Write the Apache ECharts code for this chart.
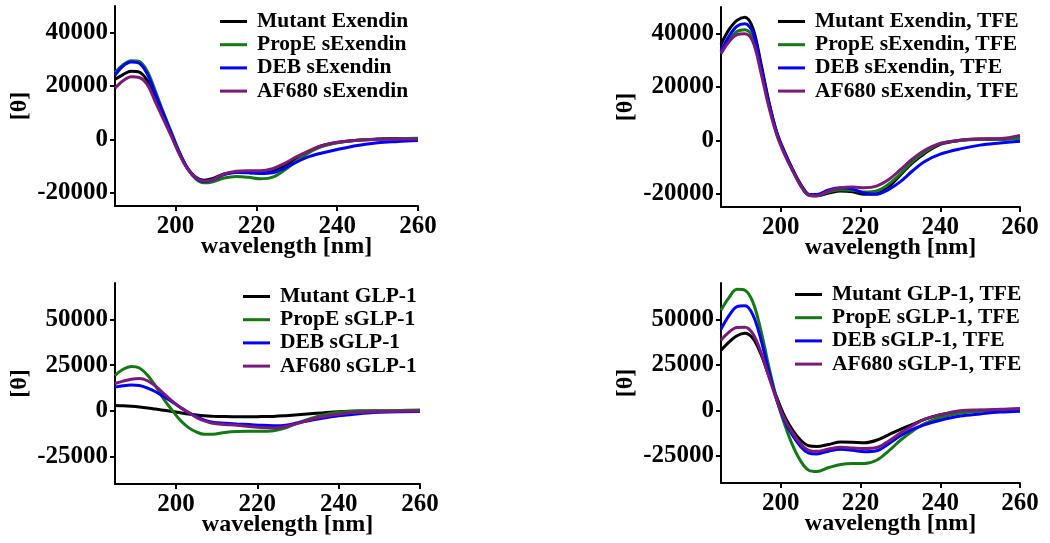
<!DOCTYPE html>
<html>
<head>
<meta charset="utf-8">
<script src="https://cdn.jsdelivr.net/npm/echarts@6/dist/echarts.min.js"></script>
<style>
html,body{margin:0;padding:0;background:#fff;}
#chart{width:1050px;height:543px;}
</style>
</head>
<body>
<div id="chart"></div>
<script>
// Wavelength grid (nm)
const wavelengths = [185,187,189,191,193,195,197,199,201,203,205,207,209,212,215,218,221,224,227,230,233,236,240,245,250,255,260];
const xTicks = [200,220,240,260];
const yTicksTop = [-20000,0,20000,40000];
const yTicksBottom = [-25000,0,25000,50000];

// Panel 1: Exendin
const exMutant = [22500,24300,25500,25200,22000,15500,8500,1500,-5500,-11000,-14200,-15300,-14800,-13000,-12300,-12400,-12700,-12000,-10000,-7000,-4500,-2500,-1200,-300,100,300,200];
const exPropE  = [25000,28000,29500,29200,25500,18000,10000,2500,-5000,-11000,-14800,-16300,-16000,-14500,-13900,-14200,-14800,-14200,-11500,-8000,-5000,-2800,-1300,-300,0,200,400];
const exDEB    = [24000,27500,29000,28500,24500,17000,9500,2000,-5200,-11000,-14500,-15800,-15300,-13200,-12400,-12500,-12800,-12500,-10800,-8500,-6500,-5200,-3800,-2300,-1300,-800,-400];
const exAF680  = [19200,22000,23500,23200,20500,14000,7500,1000,-5800,-11200,-14300,-15600,-15200,-13000,-12000,-11800,-11800,-11000,-9000,-6500,-4300,-2500,-1100,-300,0,100,100];

// Panel 2: Exendin, TFE
const exTMutant = [36000,41500,45000,46200,42000,29000,14500,3000,-4500,-11000,-16500,-20300,-20800,-19800,-19000,-19300,-20200,-20000,-17500,-13000,-8500,-5000,-1500,0,500,500,1000];
const exTPropE  = [33000,37500,40800,41500,38500,27000,13500,2500,-5000,-11300,-17000,-20600,-20800,-19300,-18500,-18700,-19400,-19000,-16500,-12500,-8000,-4500,-1200,0,300,300,800];
const exTDEB    = [33500,39000,42800,43700,40500,28000,14000,2700,-4800,-11200,-16800,-20300,-20300,-18600,-17800,-18300,-19800,-20200,-18500,-15500,-11500,-8000,-5200,-3200,-1800,-1000,-300];
const exTAF680  = [32500,37000,39600,40000,37000,25500,12500,2000,-5500,-11500,-17000,-20500,-20800,-19000,-17800,-17500,-17800,-17200,-14800,-11000,-7000,-3800,-1200,0,500,600,1800];

// Panel 3: GLP-1
const glMutant = [3000,2800,2500,2100,1600,1000,400,-300,-1000,-1700,-2300,-2700,-2900,-3100,-3200,-3200,-3100,-3000,-2600,-2100,-1600,-1100,-500,-100,0,0,0];
const glPropE  = [19500,22800,24300,23500,19500,13500,6500,500,-5000,-9000,-11500,-12800,-12800,-11800,-11300,-11200,-11200,-10800,-9200,-6500,-4200,-2300,-700,0,100,200,500];
const glDEB    = [13000,13800,14200,13900,12500,10500,7800,5000,2000,-700,-3000,-5000,-6200,-6800,-7200,-7500,-7900,-8100,-7800,-6500,-5200,-4000,-2700,-1500,-800,-400,-300];
const glAF680  = [15000,16300,17300,17700,16500,13500,9500,5500,2000,-800,-3500,-5500,-6800,-7400,-7800,-8500,-9100,-9300,-8500,-6800,-4800,-3200,-1800,-800,-300,-100,0];

// Panel 4: GLP-1, TFE
const glTMutant = [33000,37500,41000,42300,39500,31000,19000,7000,-3500,-11000,-16500,-19500,-19900,-18800,-17500,-17600,-17900,-16500,-13500,-10500,-7800,-5000,-2500,-700,0,300,600];
const glTPropE  = [55000,62000,66500,66000,59500,44000,24000,6000,-8000,-19500,-28000,-33000,-33700,-31500,-29800,-29300,-29300,-27500,-22500,-16500,-11500,-7500,-4000,-1500,-500,0,500];
const glTDEB    = [44500,52000,57000,57500,52500,39000,21500,5500,-6000,-14000,-20000,-23500,-24000,-22500,-21500,-22000,-22800,-22300,-18500,-14000,-10500,-8000,-5500,-3200,-2000,-1000,-500];
const glTAF680  = [38500,43000,45500,45600,42000,32000,18500,5500,-5000,-12500,-18500,-22000,-22600,-21300,-20400,-20700,-21000,-20500,-17000,-12500,-8500,-5000,-2500,-300,200,500,1000];

const panels = [
  {names:['Mutant Exendin','PropE sExendin','DEB sExendin','AF680 sExendin'], data:[exMutant,exPropE,exDEB,exAF680]},
  {names:['Mutant Exendin, TFE','PropE sExendin, TFE','DEB sExendin, TFE','AF680 sExendin, TFE'], data:[exTMutant,exTPropE,exTDEB,exTAF680]},
  {names:['Mutant GLP-1','PropE sGLP-1','DEB sGLP-1','AF680 sGLP-1'], data:[glMutant,glPropE,glDEB,glAF680]},
  {names:['Mutant GLP-1, TFE','PropE sGLP-1, TFE','DEB sGLP-1, TFE','AF680 sGLP-1, TFE'], data:[glTMutant,glTPropE,glTDEB,glTAF680]}
];
const colors = ['#000000','#137a13','#0000ff','#7a1a7a'];

const FONT = '"Liberation Serif", "Times New Roman", serif';
const grids = [
  {left:115, top:6, width:303, height:200},
  {left:721, top:7, width:299, height:200},
  {left:115, top:283, width:305, height:201},
  {left:721, top:283, width:299, height:200}
];
const legendPos = [
  {left:220, top:10},
  {left:778, top:10},
  {left:243, top:285},
  {left:795, top:283}
];
const yRanges = [
  {min:-25000,max:50000,ticks:yTicksTop},
  {min:-25000,max:50000,ticks:yTicksTop},
  {min:-40000,max:70000,ticks:yTicksBottom},
  {min:-40000,max:70000,ticks:yTicksBottom}
];

const axisLineStyle = {color:'#000', width:2};
const option = {
  animation:false,
  backgroundColor:'#ffffff',
  grid: grids.map(g => Object.assign({containLabel:false}, g)),
  xAxis: grids.map((g,i) => ({
    type:'value', gridIndex:i, min:185, max:260,
    name:'wavelength [nm]', nameLocation:'middle', nameGap:29, nameMoveOverlap:false,
    nameTextStyle:{fontFamily:FONT, fontWeight:'bold', fontSize:24, color:'#000', padding:[0,0,0,40]},
    axisLine:{show:true, onZero:false, lineStyle:axisLineStyle},
    axisTick:{show:true, length:5, lineStyle:axisLineStyle, customValues:xTicks},
    axisLabel:{fontFamily:FONT, fontWeight:'bold', fontSize:25, color:'#000', margin:8, customValues:xTicks},
    splitLine:{show:false}
  })),
  yAxis: grids.map((g,i) => ({
    type:'value', gridIndex:i, min:yRanges[i].min, max:yRanges[i].max,
    name:'[θ]', nameLocation:'middle', nameRotate:90, nameGap:83, nameMoveOverlap:false,
    nameTextStyle:{fontFamily:FONT, fontWeight:'bold', fontSize:24, color:'#000'},
    axisLine:{show:true, onZero:false, lineStyle:axisLineStyle},
    axisTick:{show:true, length:5, lineStyle:axisLineStyle, customValues:yRanges[i].ticks},
    axisLabel:{fontFamily:FONT, fontWeight:'bold', fontSize:25, color:'#000', margin:7,
      customValues:yRanges[i].ticks, formatter: v => String(v)},
    splitLine:{show:false}
  })),
  legend: panels.map((p,i) => ({
    orient:'vertical', left:legendPos[i].left, top:legendPos[i].top, padding:0,
    data:p.names, icon:'rect', itemWidth:27, itemHeight:3, itemGap:0.2,
    textStyle:{fontFamily:FONT, fontWeight:'bold', fontSize:21.5, color:'#000', lineHeight:23, padding:[0,0,0,5]},
    selectedMode:false
  })),
  series: []
};
panels.forEach((p,i) => {
  p.names.forEach((n,j) => {
    option.series.push({
      type:'line', name:n, xAxisIndex:i, yAxisIndex:i,
      data: wavelengths.map((w,k) => [w, p.data[j][k]]),
      smooth:0.35, showSymbol:false, symbol:'none',
      lineStyle:{color:colors[j], width:3},
      itemStyle:{color:colors[j]}
    });
  });
});
const chart = echarts.init(document.getElementById('chart'));
chart.setOption(option);
</script>
</body>
</html>
